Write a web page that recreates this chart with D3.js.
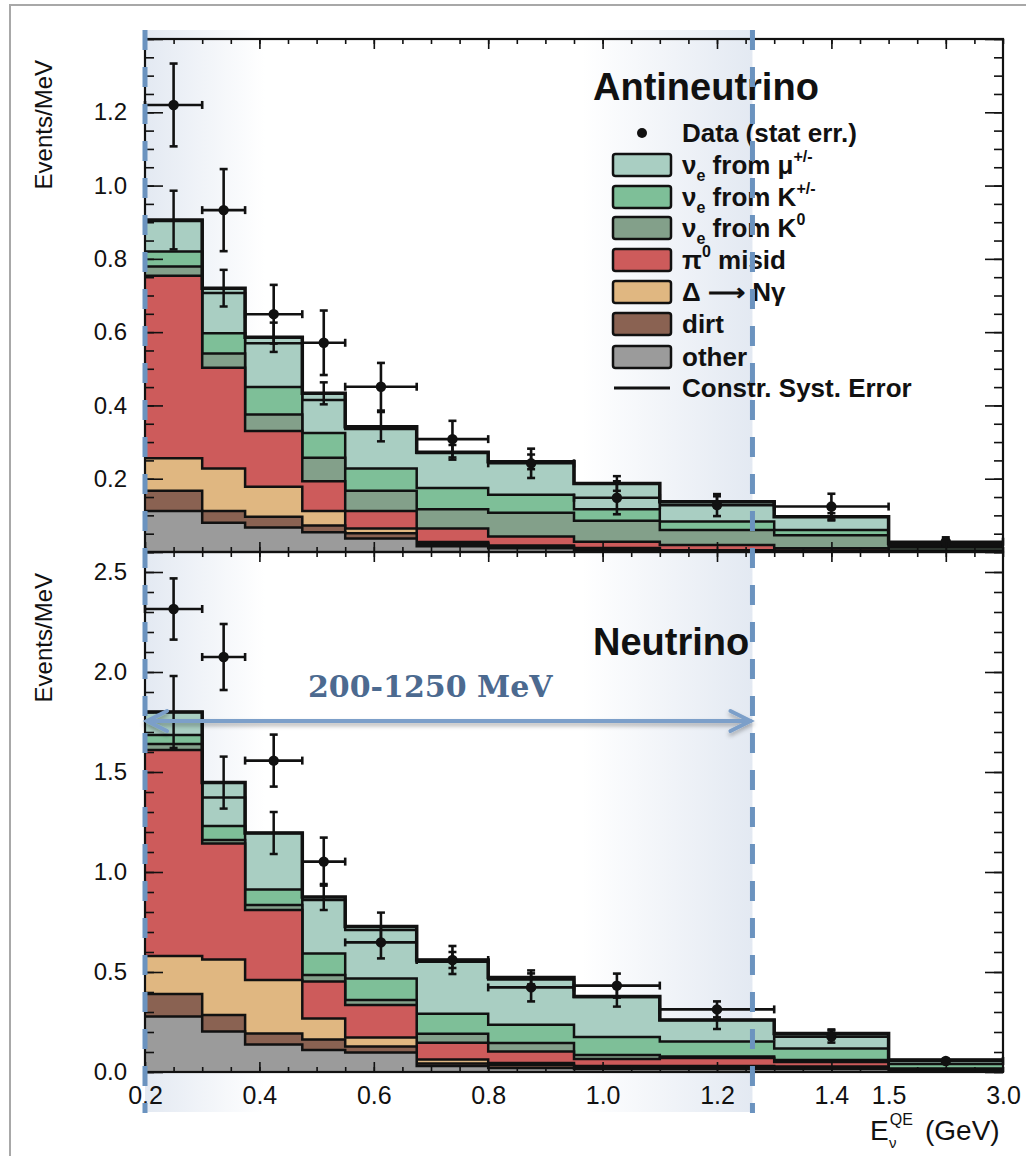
<!DOCTYPE html>
<html><head><meta charset="utf-8">
<script src="https://cdn.jsdelivr.net/npm/d3@7"></script>
<style>
body{margin:0;background:#fff;}
svg{display:block;font-family:"Liberation Sans",Arial,Helvetica,sans-serif;}
</style>
</head><body>
<svg id="chart" width="1026" height="1156"></svg>
<script>
// ---------------- DATA ----------------
const binEdges = [0.2, 0.3, 0.375, 0.475, 0.55, 0.675, 0.8, 0.95, 1.1, 1.3, 1.5, 3.0];
const xLabelValues = [0.2, 0.4, 0.6, 0.8, 1.0, 1.2, 1.4, 1.5, 3.0];

// Antineutrino (Events/MeV), stacked bottom -> top
const anuOther = [0.112, 0.080, 0.067, 0.054, 0.037, 0.016, 0.010, 0.005, 0.002, 0.002, 0.001];
const anuDirt  = [0.055, 0.032, 0.029, 0.018, 0.014, 0.005, 0.004, 0.003, 0.001, 0.001, 0.0005];
const anuDelta = [0.089, 0.116, 0.082, 0.040, 0.013, 0.006, 0.004, 0.003, 0.002, 0.001, 0.0005];
const anuPi0   = [0.498, 0.275, 0.152, 0.081, 0.048, 0.037, 0.024, 0.017, 0.014, 0.006, 0.002];
const anuK0    = [0.025, 0.039, 0.045, 0.064, 0.055, 0.053, 0.065, 0.057, 0.041, 0.036, 0.008];
const anuKpm   = [0.041, 0.055, 0.075, 0.068, 0.061, 0.058, 0.049, 0.032, 0.023, 0.014, 0.004];
const anuMu    = [0.083, 0.110, 0.120, 0.090, 0.108, 0.095, 0.090, 0.070, 0.054, 0.036, 0.008];
const anuTotal = [0.906, 0.720, 0.586, 0.433, 0.342, 0.272, 0.246, 0.187, 0.137, 0.096, 0.024];
const anuSyst  = [0.080, 0.050, 0.040, 0.030, 0.040, 0.020, 0.020, 0.020, 0.015, 0.010, 0.005];
const anuData    = [1.220, 0.933, 0.649, 0.571, 0.451, 0.308, 0.242, 0.148, 0.128, 0.124, 0.028];
const anuDataErr = [0.113, 0.112, 0.080, 0.088, 0.065, 0.050, 0.040, 0.045, 0.030, 0.035, 0.012];

// Neutrino (Events/MeV)
const nuOther = [0.277, 0.202, 0.138, 0.110, 0.097, 0.030, 0.020, 0.015, 0.015, 0.015, 0.004];
const nuDirt  = [0.113, 0.083, 0.055, 0.053, 0.030, 0.013, 0.015, 0.010, 0.010, 0.008, 0.002];
const nuDelta = [0.190, 0.278, 0.267, 0.105, 0.046, 0.020, 0.010, 0.005, 0.005, 0.004, 0.001];
const nuPi0   = [1.030, 0.580, 0.350, 0.184, 0.162, 0.083, 0.058, 0.035, 0.040, 0.023, 0.005];
const nuK0    = [0.030, 0.017, 0.025, 0.033, 0.025, 0.045, 0.042, 0.020, 0.007, 0.010, 0.006];
const nuKpm   = [0.045, 0.070, 0.078, 0.108, 0.108, 0.100, 0.091, 0.090, 0.075, 0.058, 0.022];
const nuMu    = [0.115, 0.143, 0.282, 0.267, 0.242, 0.260, 0.227, 0.200, 0.108, 0.075, 0.020];
const nuTotal = [1.800, 1.447, 1.195, 0.875, 0.727, 0.560, 0.473, 0.377, 0.260, 0.193, 0.060];
const nuSyst  = [0.180, 0.130, 0.105, 0.065, 0.070, 0.040, 0.035, 0.050, 0.045, 0.020, 0.005];
const nuData    = [2.315, 2.075, 1.557, 1.052, 0.648, 0.560, 0.423, 0.432, 0.313, 0.177, 0.055];
const nuDataErr = [0.153, 0.165, 0.130, 0.120, 0.080, 0.070, 0.070, 0.060, 0.040, 0.030, 0.010];

const anuYLabels = [0.2, 0.4, 0.6, 0.8, 1.0, 1.2];
const nuYLabels  = [0.0, 0.5, 1.0, 1.5, 2.0, 2.5];

// ---------------- STYLE ----------------
const COL = {mu:"#a9cec2", kpm:"#7ebf98", k0:"#83a08a", pi0:"#cd5b5b", delta:"#e0b781",
             dirt:"#8a6252", other:"#9b9b9b"};
const SANS = "'Liberation Sans',Arial,Helvetica,sans-serif";
const PL = 145, PR = 1003;
const BLUE_DASH = "#6b93bf", BLUE_ARROW = "#7c9fc9", BLUE_TEXT = "#4c6a90";

const svg = d3.select("#chart");
const defs = svg.append("defs");

// x scales: linear axis 0.2..1.7 with last bin (1.5-3.0) squeezed into 1.5-1.7 width
const xTick = d3.scaleLinear().domain([0.2, 1.7]).range([PL, PR]);
const x = d3.scaleLinear().domain([0.2, 1.5, 3.0]).range([PL, xTick(1.5), PR]);

svg.append("rect").attr("width",1026).attr("height",1156).attr("fill","#fff");
svg.append("path").attr("d","M10,1156 V5 H1026").attr("fill","none").attr("stroke","#a8a8a8").attr("stroke-width",2);

// gradients (annotation shading)
const gl = defs.append("linearGradient").attr("id","gl").attr("x1",0).attr("x2",1).attr("y1",0).attr("y2",0);
gl.append("stop").attr("offset",0).attr("stop-color","#e3e9f2").attr("stop-opacity",1);
gl.append("stop").attr("offset",1).attr("stop-color","#e3e9f2").attr("stop-opacity",0);
const gr = defs.append("linearGradient").attr("id","gr").attr("x1",0).attr("x2",1).attr("y1",0).attr("y2",0);
gr.append("stop").attr("offset",0).attr("stop-color","#e3e9f2").attr("stop-opacity",0);
gr.append("stop").attr("offset",1).attr("stop-color","#e3e9f2").attr("stop-opacity",1);

const xRightMark = x(1.262);
svg.append("rect").attr("x",PL).attr("y",30).attr("width",120).attr("height",1082).attr("fill","url(#gl)");
svg.append("rect").attr("x",xRightMark-170).attr("y",30).attr("width",170).attr("height",1082).attr("fill","url(#gr)");

const fmt = d3.format(".1f");
const nBins = binEdges.length - 1;
const stepPts = vals => binEdges.map((e,i) => [e, vals[Math.min(i, nBins-1)]]);

function drawPanel(cfg) {
  const y = d3.scaleLinear().domain([0, cfg.ymax]).range([cfg.bottom, cfg.top]);
  const g = svg.append("g");
  const clipId = "clip-" + cfg.id;
  defs.append("clipPath").attr("id", clipId).append("rect")
    .attr("x", PL).attr("y", cfg.top).attr("width", PR-PL).attr("height", cfg.bottom-cfg.top);
  const plot = g.append("g").attr("clip-path", `url(#${clipId})`);

  const area = d3.area().x(d=>x(d[0])).y0(y(0)).y1(d=>y(d[1])).curve(d3.curveStepAfter);
  const line = d3.line().x(d=>x(d[0])).y(d=>y(d[1])).curve(d3.curveStepAfter);

  const cums = [];
  let run = new Array(nBins).fill(0);
  cfg.comps.forEach(c => { run = run.map((v,i)=>v + c.values[i]); cums.push(run.slice()); });

  plot.append("path").datum(stepPts(cfg.total)).attr("d", area).attr("fill", COL.mu);
  for (let k = cums.length-1; k >= 0; k--) {
    plot.append("path").datum(stepPts(cums[k])).attr("d", area).attr("fill", cfg.comps[k].color);
    plot.append("path").datum(stepPts(cums[k])).attr("d", line)
      .attr("fill","none").attr("stroke","#111").attr("stroke-width",2.5);
  }
  plot.append("path").datum(stepPts(cfg.total)).attr("d", line)
    .attr("fill","none").attr("stroke","#111").attr("stroke-width",3.5);

  const centers = d3.range(nBins).map(i => (binEdges[i] + binEdges[i+1]) / 2);
  const cap = 4;
  const sg = plot.append("g").attr("stroke","#111").attr("stroke-width",2.5);
  centers.forEach((c,i) => {
    const cx = x(c), y1 = y(cfg.total[i] + cfg.syst[i]), y2 = y(cfg.total[i] - cfg.syst[i]);
    sg.append("line").attr("x1",cx).attr("x2",cx).attr("y1",y1).attr("y2",y2);
    sg.append("line").attr("x1",cx-cap).attr("x2",cx+cap).attr("y1",y1).attr("y2",y1);
    sg.append("line").attr("x1",cx-cap).attr("x2",cx+cap).attr("y1",y2).attr("y2",y2);
  });
  const dg = g.append("g").attr("stroke","#111").attr("stroke-width",2.6);
  centers.forEach((c,i) => {
    const cx = x(c), cy = y(cfg.data[i]);
    const xa = x(binEdges[i]), xb = x(binEdges[i+1]);
    const ya = y(cfg.data[i] + cfg.dataErr[i]), yb = y(cfg.data[i] - cfg.dataErr[i]);
    dg.append("line").attr("x1",xa).attr("x2",xb).attr("y1",cy).attr("y2",cy);
    dg.append("line").attr("x1",xa).attr("x2",xa).attr("y1",cy-cap).attr("y2",cy+cap);
    dg.append("line").attr("x1",xb).attr("x2",xb).attr("y1",cy-cap).attr("y2",cy+cap);
    dg.append("line").attr("x1",cx).attr("x2",cx).attr("y1",ya).attr("y2",yb);
    dg.append("line").attr("x1",cx-cap).attr("x2",cx+cap).attr("y1",ya).attr("y2",ya);
    dg.append("line").attr("x1",cx-cap).attr("x2",cx+cap).attr("y1",yb).attr("y2",yb);
    dg.append("circle").attr("cx",cx).attr("cy",cy).attr("r",5.2).attr("fill","#111").attr("stroke","none");
  });

  const minorY = d3.range(0, Math.round(cfg.ymax/cfg.minor)+1).map(i => +(i*cfg.minor).toFixed(3));
  const majorY = d3.range(0, Math.round(cfg.ymax/cfg.major)+1).map(i => +(i*cfg.major).toFixed(3));
  const minorX = d3.range(0, 31).map(i => +(0.2 + i*0.05).toFixed(3));
  const majorX = d3.range(0, 8).map(i => +(0.2 + i*0.2).toFixed(3));
  const ax = g.append("g");
  const styleAxis = sel => { sel.select(".domain").remove(); sel.selectAll(".tick line").attr("stroke","#111").attr("stroke-width",1.6); return sel; };
  ax.append("g").attr("transform",`translate(${PL},0)`).call(d3.axisLeft(y).tickValues(minorY).tickSizeInner(-9).tickSizeOuter(0).tickFormat("")).call(styleAxis);
  ax.append("g").attr("transform",`translate(${PL},0)`).call(d3.axisLeft(y).tickValues(majorY).tickSizeInner(-18).tickSizeOuter(0).tickFormat("")).call(styleAxis);
  ax.append("g").attr("transform",`translate(${PR},0)`).call(d3.axisRight(y).tickValues(minorY).tickSizeInner(-9).tickSizeOuter(0).tickFormat("")).call(styleAxis);
  ax.append("g").attr("transform",`translate(${PR},0)`).call(d3.axisRight(y).tickValues(majorY).tickSizeInner(-18).tickSizeOuter(0).tickFormat("")).call(styleAxis);
  ax.append("g").attr("transform",`translate(0,${cfg.top})`).call(d3.axisTop(xTick).tickValues(minorX).tickSizeInner(-5).tickSizeOuter(0).tickFormat("")).call(styleAxis);
  ax.append("g").attr("transform",`translate(0,${cfg.top})`).call(d3.axisTop(xTick).tickValues(majorX).tickSizeInner(-10).tickSizeOuter(0).tickFormat("")).call(styleAxis);
  ax.append("g").attr("transform",`translate(0,${cfg.bottom})`).call(d3.axisBottom(xTick).tickValues(minorX).tickSizeInner(-5).tickSizeOuter(0).tickFormat("")).call(styleAxis);
  ax.append("g").attr("transform",`translate(0,${cfg.bottom})`).call(d3.axisBottom(xTick).tickValues(majorX).tickSizeInner(-10).tickSizeOuter(0).tickFormat("")).call(styleAxis);
  const yl = ax.append("g").attr("transform",`translate(${PL},0)`)
    .call(d3.axisLeft(y).tickValues(cfg.yLabels).tickSize(0).tickPadding(18).tickFormat(fmt));
  yl.select(".domain").remove();
  yl.attr("font-size",24).attr("font-family",SANS);
  yl.selectAll("text").attr("fill","#111");
  g.append("rect").attr("x",PL).attr("y",cfg.top).attr("width",PR-PL).attr("height",cfg.bottom-cfg.top)
    .attr("fill","none").attr("stroke","#111").attr("stroke-width",2.2);
  g.append("text").attr("transform",`translate(52,${cfg.top+21}) rotate(-90)`)
    .attr("text-anchor","end").attr("font-size",24).attr("fill","#111").text("Events/MeV");
  g.append("text").attr("x",593).attr("y",cfg.titleY).attr("font-size",38).attr("font-weight","bold")
    .attr("fill","#111").text(cfg.title);
  return {g, y};
}

const anuComps = [
  {values: anuOther, color: COL.other}, {values: anuDirt, color: COL.dirt},
  {values: anuDelta, color: COL.delta}, {values: anuPi0, color: COL.pi0},
  {values: anuK0, color: COL.k0}, {values: anuKpm, color: COL.kpm}, {values: anuMu, color: COL.mu}];
const nuComps = [
  {values: nuOther, color: COL.other}, {values: nuDirt, color: COL.dirt},
  {values: nuDelta, color: COL.delta}, {values: nuPi0, color: COL.pi0},
  {values: nuK0, color: COL.k0}, {values: nuKpm, color: COL.kpm}, {values: nuMu, color: COL.mu}];

drawPanel({id:"anu", title:"Antineutrino", titleY:100, top:39, bottom:552, ymax:1.4, major:0.2, minor:0.05,
  yLabels: anuYLabels, comps: anuComps, total: anuTotal, syst: anuSyst, data: anuData, dataErr: anuDataErr});
drawPanel({id:"nu", title:"Neutrino", titleY:655, top:552, bottom:1072, ymax:2.6, major:0.5, minor:0.1,
  yLabels: nuYLabels, comps: nuComps, total: nuTotal, syst: nuSyst, data: nuData, dataErr: nuDataErr});

const xl = svg.append("g").attr("transform","translate(0,1072)")
  .call(d3.axisBottom(x).tickValues(xLabelValues).tickSize(0).tickPadding(14).tickFormat(fmt));
xl.select(".domain").remove();
xl.attr("font-size",25).attr("font-family",SANS);
xl.selectAll("text").attr("fill","#111");

// x title: E with superscript QE and subscript nu
const xt = svg.append("text").attr("x",870).attr("y",1140).attr("font-size",28).attr("fill","#111");
xt.append("tspan").text("E");
xt.append("tspan").attr("font-size",16).attr("dx",1).attr("dy",-15).text("QE");
xt.append("tspan").attr("font-size",28).attr("x",925).attr("dy",15).text("(GeV)");
svg.append("text").attr("x",889).attr("y",1148).attr("font-size",15).attr("fill","#111").text("ν");

// legend
const legendRows = [
  {type:"dot", parts:[["Data (stat err.)"]]},
  {type:"box", color:COL.mu, parts:[["ν"],["e","sub"],[" from μ"],["+/-","sup"]]},
  {type:"box", color:COL.kpm, parts:[["ν"],["e","sub"],[" from K"],["+/-","sup"]]},
  {type:"box", color:COL.k0, parts:[["ν"],["e","sub"],[" from K"],["0","sup"]]},
  {type:"box", color:COL.pi0, parts:[["π"],["0","sup"],[" misid"]]},
  {type:"box", color:COL.delta, parts:[["Δ ⟶ Nγ"]]},
  {type:"box", color:COL.dirt, parts:[["dirt"]]},
  {type:"box", color:COL.other, parts:[["other"]]},
  {type:"line", parts:[["Constr. Syst. Error"]]}
];
const legY = [133, 165, 197, 228, 260, 292, 324, 357, 388];
const lg = svg.append("g");
legendRows.forEach((r,i) => {
  const cy = legY[i];
  if (r.type === "box") {
    lg.append("rect").attr("x",613).attr("y",cy-11).attr("width",58).attr("height",22).attr("rx",2.5)
      .attr("fill",r.color).attr("stroke","#111").attr("stroke-width",2.5);
  } else if (r.type === "dot") {
    lg.append("circle").attr("cx",642).attr("cy",cy).attr("r",5).attr("fill","#111");
  } else {
    lg.append("line").attr("x1",614).attr("x2",670).attr("y1",cy).attr("y2",cy).attr("stroke","#111").attr("stroke-width",3);
  }
  const t = lg.append("text").attr("x",682).attr("y",cy+9).attr("font-size",26).attr("font-weight","bold").attr("fill","#111");
  let shift = 0;
  r.parts.forEach(p => {
    const ts = t.append("tspan").text(p[0]);
    let target = 0;
    if (p[1] === "sub") { ts.attr("font-size",16); target = 7; }
    if (p[1] === "sup") { ts.attr("font-size",16); target = -12; }
    ts.attr("dy", target - shift); shift = target;
  });
});

// annotations
const xLeftMark = x(0.2);
const an = svg.append("g");
[xLeftMark, xRightMark].forEach(xx => {
  an.append("line").attr("x1",xx).attr("x2",xx).attr("y1",30).attr("y2",1113)
    .attr("stroke",BLUE_DASH).attr("stroke-width",5).attr("stroke-dasharray","20,17");
});
const sh = defs.append("filter").attr("id","shadow").attr("x","-5%").attr("y","-200%").attr("width","110%").attr("height","500%");
sh.append("feDropShadow").attr("dx",0).attr("dy",3).attr("stdDeviation",2).attr("flood-color","#000").attr("flood-opacity",0.3);
const ay = 721;
const ag = an.append("g").attr("stroke",BLUE_ARROW).attr("stroke-width",4).attr("fill","none")
  .attr("stroke-linecap","round").attr("filter","url(#shadow)");
ag.append("line").attr("x1",xLeftMark+2).attr("x2",xRightMark-2).attr("y1",ay).attr("y2",ay);
ag.append("polyline").attr("points",`${xLeftMark+22},${ay-10} ${xLeftMark+2},${ay} ${xLeftMark+22},${ay+10}`);
ag.append("polyline").attr("points",`${xRightMark-22},${ay-10} ${xRightMark-2},${ay} ${xRightMark-22},${ay+10}`);
an.append("text").attr("x",308).attr("y",697).style("font-family","'DejaVu Serif',serif")
  .attr("font-weight","bold").attr("font-size",30).attr("fill",BLUE_TEXT).text("200-1250 MeV");
</script>
</body></html>
